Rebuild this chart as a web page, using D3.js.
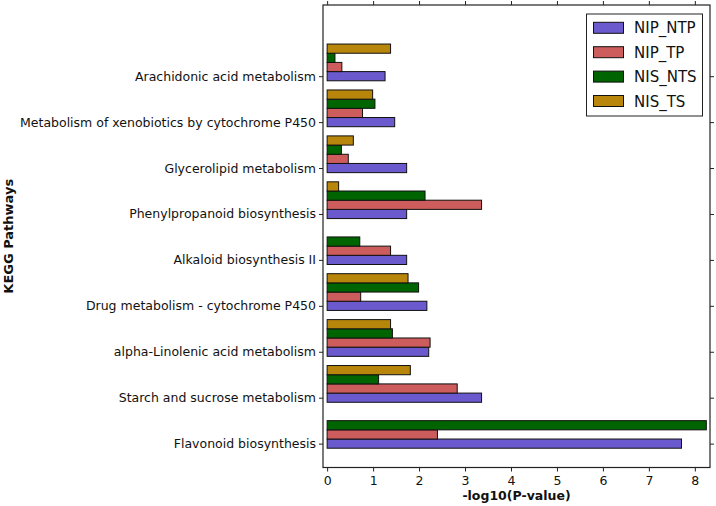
<!DOCTYPE html>
<html>
<head>
<meta charset="utf-8">
<script src="https://cdn.jsdelivr.net/npm/d3@7"></script>
<style>
html, body { margin: 0; padding: 0; background: #fff; }
svg { display: block; }
text { font-family: "DejaVu Sans", sans-serif; fill: #111; }
</style>
</head>
<body>
<div id="chart"></div>
<script>
// Categories, bottom to top
const categories = [
  "Flavonoid biosynthesis",
  "Starch and sucrose metabolism",
  "alpha-Linolenic acid metabolism",
  "Drug metabolism - cytochrome P450",
  "Alkaloid biosynthesis II",
  "Phenylpropanoid biosynthesis",
  "Glycerolipid metabolism",
  "Metabolism of xenobiotics by cytochrome P450",
  "Arachidonic acid metabolism"
];
const seriesNames = ["NIP_NTP", "NIP_TP", "NIS_NTS", "NIS_TS"];
const seriesColors = ["#6a5acd", "#cd5c5c", "#006400", "#b8860b"];
const NIP_NTP = [7.71, 3.36, 2.21, 2.17, 1.73, 1.73, 1.73, 1.47, 1.26];
const NIP_TP  = [2.40, 2.83, 2.24, 0.73, 1.38, 3.36, 0.46, 0.77, 0.32];
const NIS_NTS = [8.25, 1.12, 1.42, 1.99, 0.71, 2.13, 0.31, 1.04, 0.17];
const NIS_TS  = [0,    1.81, 1.38, 1.76, 0,    0.25, 0.57, 0.99, 1.38];
const seriesValues = [NIP_NTP, NIP_TP, NIS_NTS, NIS_TS];
const xTicks = [0, 1, 2, 3, 4, 5, 6, 7, 8];

const W = 716, H = 506;
const plot = { left: 323, right: 710, top: 5, bottom: 467.5 };
const barH = 0.2;

const svg = d3.select("#chart").append("svg").attr("width", W).attr("height", H);

const x = d3.scaleLinear().domain([-0.09, 8.33]).range([plot.left, plot.right]);
const y = d3.scaleLinear().domain([-0.52, 9.55]).range([plot.bottom, plot.top]);

// Bars
const barData = [];
seriesValues.forEach((vals, k) => {
  vals.forEach((v, i) => {
    if (v > 0) barData.push({ k, i, v });
  });
});
svg.append("g").selectAll("rect").data(barData).join("rect")
  .attr("x", d => x(0))
  .attr("y", d => y(d.i + d.k * barH + barH / 2))
  .attr("width", d => x(d.v) - x(0))
  .attr("height", d => y(0) - y(barH))
  .attr("fill", d => seriesColors[d.k])
  .attr("stroke", "#111")
  .attr("stroke-width", 1);

// Axes
const tickLen = 4;
const bottomAxis = d3.axisBottom(x).tickValues(xTicks).tickFormat(d3.format("d")).tickSize(tickLen).tickPadding(5);
const topAxis = d3.axisTop(x).tickValues(xTicks).tickFormat("").tickSize(tickLen);
const yIdx = categories.map((c, i) => i);
const leftAxis = d3.axisLeft(y).tickValues(yIdx).tickFormat(i => categories[i]).tickSize(tickLen).tickPadding(3);
const rightAxis = d3.axisRight(y).tickValues(yIdx).tickFormat("").tickSize(tickLen);

function styleAxis(g, fs) {
  g.select(".domain").remove();
  g.selectAll(".tick line").attr("stroke", "#222");
  g.selectAll(".tick text").attr("font-family", "DejaVu Sans, sans-serif").attr("font-size", fs).attr("fill", "#111");
}
svg.append("g").attr("transform", `translate(0,${plot.bottom})`).call(bottomAxis).call(g => styleAxis(g, "12.5px"));
svg.append("g").attr("transform", `translate(0,${plot.top})`).call(topAxis).call(g => styleAxis(g, "12.5px"));
svg.append("g").attr("transform", `translate(${plot.left},0)`).call(leftAxis).call(g => styleAxis(g, "12.5px"));
svg.append("g").attr("transform", `translate(${plot.right},0)`).call(rightAxis).call(g => styleAxis(g, "12.5px"));

// Frame
svg.append("rect")
  .attr("x", plot.left).attr("y", plot.top)
  .attr("width", plot.right - plot.left).attr("height", plot.bottom - plot.top)
  .attr("fill", "none").attr("stroke", "#222").attr("stroke-width", 1.2);

// Axis labels
svg.append("text")
  .attr("x", (plot.left + plot.right) / 2).attr("y", 500)
  .attr("text-anchor", "middle").attr("font-weight", "bold").attr("font-size", "12.5px")
  .text("-log10(P-value)");
svg.append("text")
  .attr("transform", `translate(13,${(plot.top + plot.bottom) / 2}) rotate(-90)`)
  .attr("text-anchor", "middle").attr("font-weight", "bold").attr("font-size", "13px")
  .text("KEGG Pathways");

// Legend
const leg = svg.append("g").attr("transform", "translate(586.5,14)");
leg.append("rect").attr("width", 116).attr("height", 102)
  .attr("fill", "#fff").attr("stroke", "#222").attr("stroke-width", 1);
const items = leg.selectAll("g.item").data(seriesNames).join("g")
  .attr("class", "item")
  .attr("transform", (d, i) => `translate(7,${13.8 + i * 24.4})`);
items.append("rect").attr("x", 0).attr("y", -5.5).attr("width", 30).attr("height", 11)
  .attr("fill", (d, i) => seriesColors[i]).attr("stroke", "#111").attr("stroke-width", 1);
items.append("text").attr("x", 40.5).attr("y", 5.5)
  .attr("font-size", "15px").text(d => d);
</script>
</body>
</html>
